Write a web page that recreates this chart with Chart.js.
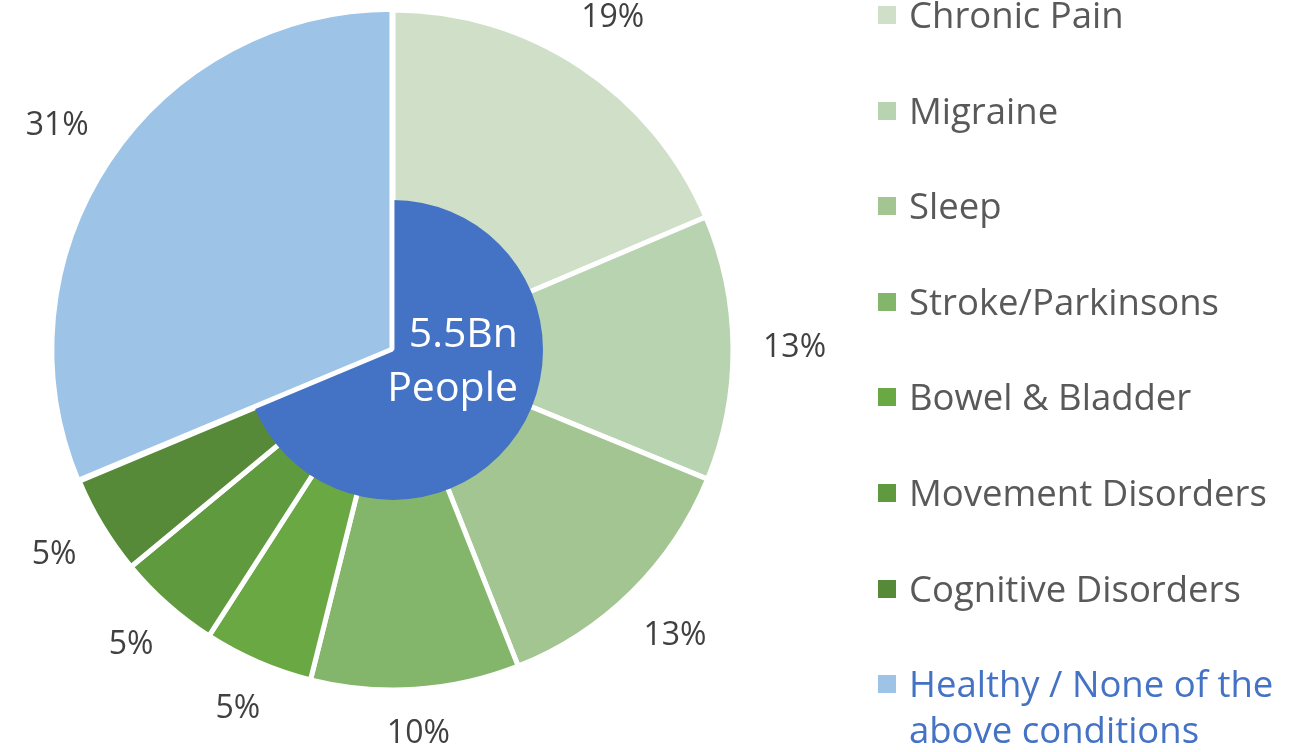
<!DOCTYPE html>
<html>
<head>
<meta charset="utf-8">
<script src="https://cdn.jsdelivr.net/npm/chart.js@4.4.1/dist/chart.umd.min.js"></script>
<style>
    html,body{margin:0;padding:0;background:#fff;overflow:hidden;}
    #wrap{position:relative;width:1313px;height:752px;}
    #pie{position:absolute;left:0;top:0;}
    #legend{position:absolute;left:0;top:0;font-family:"Open Sans",sans-serif;font-size:36.5px;color:#595959;}
    .item{position:absolute;left:878px;line-height:46px;white-space:nowrap;}
    .item .box{position:absolute;left:0;top:15px;width:18px;height:18px;}
    .item .txt{position:absolute;left:31px;top:0;}
</style>
</head>
<body>
<div id="wrap">
    <canvas id="pie" width="1313" height="752"></canvas>
    <div id="legend"></div>
</div>
<script>
const categories=['Chronic Pain','Migraine','Sleep','Stroke/Parkinsons','Bowel & Bladder','Movement Disorders','Cognitive Disorders','Healthy / None of the above conditions'];
const legendLines=[['Chronic Pain'],['Migraine'],['Sleep'],['Stroke/Parkinsons'],['Bowel & Bladder'],['Movement Disorders'],['Cognitive Disorders'],['Healthy / None of the','above conditions']];
const shares=[18.6,12.6,12.8,9.9,5.2,4.9,4.7,31.3];
const colors=['#D0DFC8','#B8D3AF','#A2C591','#83B56A','#6AA843','#5F9A3F','#568A38','#9DC3E6'];
const centerLines=['5.5Bn','People'];

const FONT='"Open Sans", sans-serif';

// dark centre disc sits over the condition slices, healthy slice redrawn on top
const centerDisc={
    id:'centerDisc',
    afterDatasetsDraw(chart){
        const ctx=chart.ctx;
        const meta=chart.getDatasetMeta(0);
        const first=meta.data[0];
        ctx.save();
        ctx.fillStyle='#4472C4';
        ctx.beginPath();
        ctx.arc(first.x,first.y,150,0,Math.PI*2);
        ctx.fill();
        ctx.restore();
        meta.data[meta.data.length-1].draw(ctx);

        ctx.save();
        ctx.fillStyle='#fff';
        ctx.font='41px '+FONT;
        ctx.textAlign='right';
        ctx.textBaseline='alphabetic';
        ctx.fillText(centerLines[0],518,347);
        ctx.fillText(centerLines[1],518,401);
        ctx.restore();
    }
};

// outside-end labels: box edge kept a fixed gap away from the rim
const pctLabels={
    id:'pctLabels',
    afterDraw(chart){
        const ctx=chart.ctx;
        const meta=chart.getDatasetMeta(0);
        const total=shares.reduce((a,b)=>a+b,0);
        ctx.save();
        ctx.fillStyle='#404040';
        ctx.font='32px '+FONT;
        ctx.textAlign='center';
        ctx.textBaseline='middle';
        meta.data.forEach(function(arc,i){
            const p=arc.getProps(['x','y','startAngle','endAngle','outerRadius'],true);
            const mid=(p.startAngle+p.endAngle)/2;
            const txt=Math.round(shares[i]/total*100)+'%';
            const hw=ctx.measureText(txt).width/2, hh=13;
            const c=Math.cos(mid), s=Math.sin(mid);
            const r=p.outerRadius+30+Math.abs(c)*hw+Math.abs(s)*hh;
            ctx.fillText(txt,p.x+c*r,p.y+s*r);
        });
        ctx.restore();
    }
};

new Chart(document.getElementById('pie'),{
    type:'pie',
    data:{
        labels:categories,
        datasets:[{
            data:shares,
            backgroundColor:colors,
            borderColor:'#fff',
            borderWidth:5,
            offset:shares.map((v,i)=>i==shares.length-1?5:0)
        }]
    },
    options:{
        responsive:false,
        animation:false,
        radius:340,
        layout:{padding:{left:0,top:0,right:527,bottom:52}},
        plugins:{legend:{display:false},tooltip:{enabled:false}}
    },
    plugins:[centerDisc,pctLabels]
});

// html legend (last entry wraps onto two lines, in blue)
const legend=document.getElementById('legend');
legendLines.forEach(function(lines,i){
    const it=document.createElement('div');
    it.className='item';
    it.style.top=(-9+i*95.6)+'px';
    const box=document.createElement('div');
    box.className='box';
    box.style.background=colors[i];
    const txt=document.createElement('div');
    txt.className='txt';
    txt.innerHTML=lines.join('<br>');
    if(i==legendLines.length-1)txt.style.color='#4472C4';
    it.appendChild(box);
    it.appendChild(txt);
    legend.appendChild(it);
});
</script>
</body>
</html>
